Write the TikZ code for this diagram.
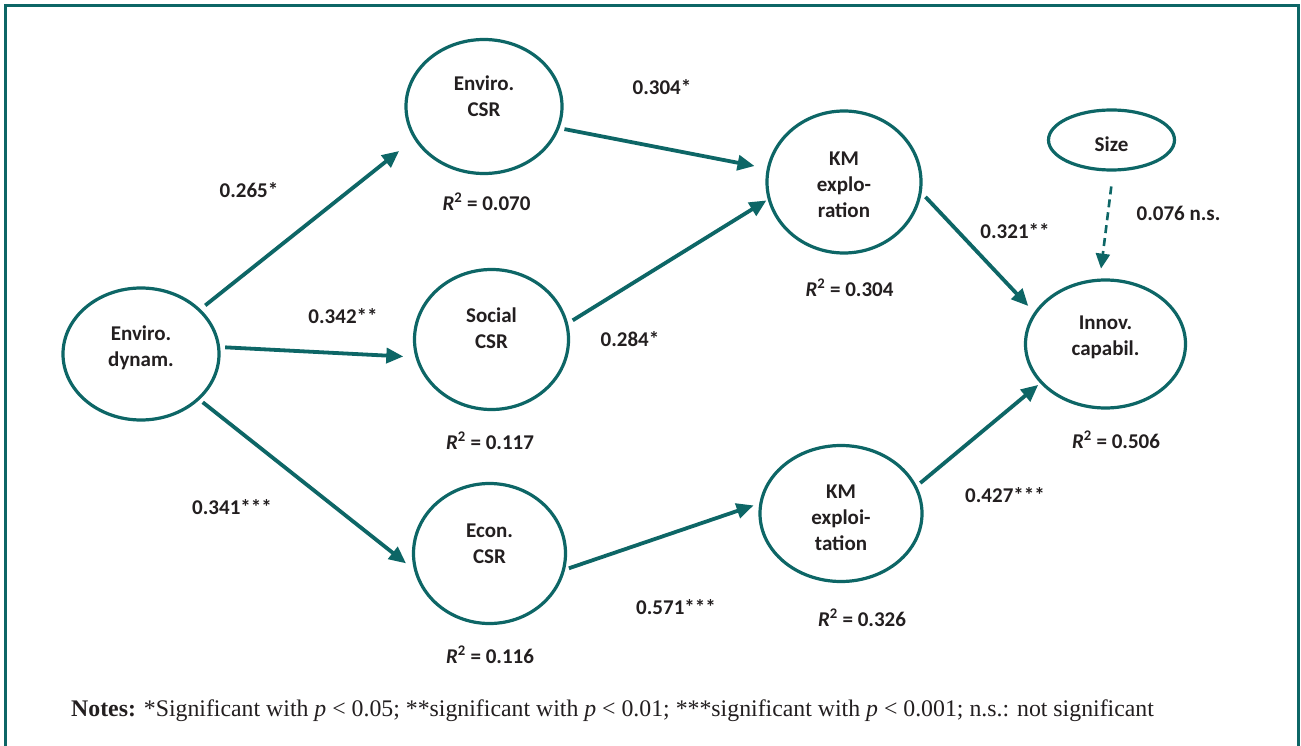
\documentclass[tikz,border=0pt]{standalone}
\usepackage{fontspec}
\setmainfont{Carlito}
\newfontfamily\notesfont{Liberation Serif}
\usetikzlibrary{shapes.geometric,arrows.meta}
\definecolor{tealc}{RGB}{13,102,102}
\definecolor{txt}{RGB}{35,31,32}
\begin{document}
\begin{tikzpicture}[x=1pt,y=-1pt,
  lat/.style={ellipse, draw=tealc, line width=3.2pt, inner sep=0pt},
  lbl/.style={font=\fontsize{21}{26}\selectfont\bfseries, text=txt, align=center, inner sep=0pt},
  coef/.style={font=\fontsize{21}{26}\selectfont\bfseries, text=txt, inner sep=0pt},
  arr/.style={draw=tealc, line width=3.8pt, -{Triangle[length=17pt,width=15pt]}},
  darr/.style={draw=tealc, line width=2.6pt, dash pattern=on 8pt off 5pt, -{Triangle[length=15pt,width=14pt]}},
]
\useasboundingbox (0,0) rectangle (1301,746);
\fill[white] (0,0) rectangle (1301,746);
\draw[tealc, line width=3.3pt] (5.7,770) -- (5.7,5.7) -- (1298.7,5.7) -- (1298.7,770);

% latent variables
\node[lat, minimum width=156pt, minimum height=132pt] (ed)  at (141,354) {};
\node[lat, minimum width=156pt, minimum height=134pt] (ec)  at (484,106.5) {};
\node[lat, minimum width=154pt, minimum height=140pt] (sc)  at (491.5,339.5) {};
\node[lat, minimum width=152pt, minimum height=140pt] (eco) at (489.5,553.5) {};
\node[lat, minimum width=154pt, minimum height=142pt] (kx)  at (844,182) {};
\node[lat, minimum width=162pt, minimum height=136pt] (kt)  at (841,513.5) {};
\node[lat, minimum width=160pt, minimum height=128pt] (ic)  at (1105.5,344) {};
\node[lat, minimum width=126pt, minimum height=60pt]  (sz)  at (1111.5,140) {};

% texts inside
\node[lbl] (ed-t)  at (141,348)   {Enviro.\\dynam.};
\node[lbl] (ec-t)  at (484,96)    {Enviro.\\CSR};
\node[lbl] (sc-t)  at (491.5,328) {Social\\CSR};
\node[lbl] (eco-t) at (489.5,543.5) {Econ.\\CSR};
\node[lbl] (kx-t)  at (844,185)   {KM\\explo-\\ration};
\node[lbl] (kt-t)  at (841,518)   {KM\\exploi-\\tation};
\node[lbl] (ic-t)  at (1105.5,337) {Innov.\\capabil.};
\node[lbl] (sz-t)  at (1111.5,144) {Size};

% paths
\draw[arr, shorten <=6pt, shorten >=19pt]   (ed.37)  -- (ec.205);
\draw[arr, shorten <=5pt, shorten >=12pt]   (ed.5)   -- (sc.193);
\draw[arr, shorten <=4pt, shorten >=10pt]   (ed.-38) -- (eco.192);
\draw[arr, shorten <=5pt, shorten >=12.5pt] (ec.-16) -- (kx.170);
\draw[arr, shorten <=5.5pt, shorten >=1.5pt] (sc.12.5) -- (kx.193);
\draw[arr, shorten <=4pt, shorten >=6pt]    (eco.-12) -- (kt.173);
\draw[arr, shorten <=5.5pt, shorten >=8.5pt] (kx.-8) -- (ic.156);
\draw[arr, shorten <=4.5pt, shorten >=2.5pt] (kt.20) -- (ic.211);
\draw[darr, shorten <=15pt, shorten >=10pt] (sz.273) -- (ic.95.5);

% coefficients
\node[coef] (c1) at (249,190)  {0.265*};
\node[coef] (c2) at (343,316)  {0.342**};
\node[coef] (c3) at (232,507)  {0.341***};
\node[coef] (c4) at (662,87)   {0.304*};
\node[coef] (c5) at (630,339)  {0.284*};
\node[coef] (c6) at (676,607)  {0.571***};
\node[coef] (c7) at (1015,231) {0.321**};
\node[coef] (c8) at (1005,495) {0.427***};
\node[coef] (c9) at (1178.5,213) {0.076 n.s.};

% R squared
\node[coef] (r1) at (486.5,202) {\textit{R}\textsuperscript{2} = 0.070};
\node[coef] (r2) at (490,441)   {\textit{R}\textsuperscript{2} = 0.117};
\node[coef] (r3) at (490,655)   {\textit{R}\textsuperscript{2} = 0.116};
\node[coef] (r4) at (849.5,288) {\textit{R}\textsuperscript{2} = 0.304};
\node[coef] (r5) at (862,618)   {\textit{R}\textsuperscript{2} = 0.326};
\node[coef] (r6) at (1116,440)  {\textit{R}\textsuperscript{2} = 0.506};

% notes
\node[anchor=west, inner sep=0pt, text=txt, font=\notesfont\fontsize{23.8}{28}\selectfont] (notes) at (71,711)
  {\textbf{Notes:} *Significant with \textit{p} < 0.05; **significant with \textit{p} < 0.01; ***significant with \textit{p} < 0.001; n.s.: not significant};
\end{tikzpicture}
\end{document}
